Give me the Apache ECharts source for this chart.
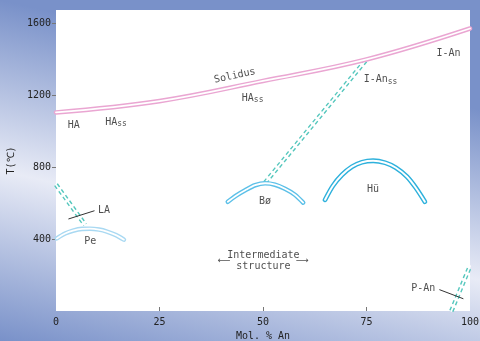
<!DOCTYPE html>
<html>
<head>
<meta charset="utf-8">
<script src="https://cdn.jsdelivr.net/npm/echarts@6/dist/echarts.min.js"></script>
<style>
  html, body { margin: 0; padding: 0; }
  #chart { width: 480px; height: 341px; }
</style>
</head>
<body>
<div id="chart"></div>
<script>
// Axis ticks
const xTicks = [0, 25, 50, 75, 100];
const xInnerTicks = [25, 50, 75];
const yTicks = [400, 800, 1200, 1600];

// Phase boundaries: [mol % An, T (°C)]
const solidus = [[0, 1105], [25, 1168], [50, 1280], [75, 1400], [100, 1572]];
const boundaryHigh = [[50.5, 714], [75, 1400]];
const boundaryLow = [[0, 703], [7, 480]];
const boundaryPAn = [[95.5, 0], [100, 250]];

// Exsolution domes
const domePe = [[0.2, 404], [2.2, 431], [4.1, 447], [6.3, 457], [8.2, 458], [10.4, 453],
                [12.3, 442], [14.5, 422], [16.4, 397]];
const domeBo = [[41.5, 608], [43.5, 642], [45.7, 672], [48.1, 700], [50.5, 711], [52.9, 703],
                [55.3, 680], [57.7, 647], [59.7, 603]];
const domeHu = [[65.0, 619], [66.9, 697], [69.1, 758], [71.5, 803], [73.9, 828], [76.6, 836],
                [79.5, 825], [82.1, 797], [84.8, 747], [86.9, 686], [89.1, 608]];

// Leader lines for labels
const leaderLA = [[3, 512], [9.3, 558]];
const leaderPAn = [[92.6, 119], [98.4, 68]];

const FONT = "'DejaVu Sans Mono', 'Liberation Mono', monospace";
const TEXT = '#222';

// A double-walled curve: a wide coloured stroke with a thin white core
function tube(data, color, width, dashed, smooth) {
  return [
    {
      type: 'line', data: data, smooth: smooth, symbol: 'none', silent: true,
      lineStyle: { color: color, width: width, type: dashed ? [4, 3] : 'solid', cap: dashed ? 'butt' : 'round' }
    },
    {
      type: 'line', data: data, smooth: smooth, symbol: 'none', silent: true,
      lineStyle: { color: '#ffffff', width: width - 2.8, cap: 'round' }
    }
  ];
}

function leader(data) {
  return { type: 'line', data: data, symbol: 'none', silent: true,
           lineStyle: { color: '#333', width: 1 } };
}

const chart = echarts.init(document.getElementById('chart'));

chart.setOption({
  animation: false,
  backgroundColor: {
    type: 'linear', global: true, x: 0, y: 0, x2: -74, y2: 324,
    colorStops: [
      { offset: 0, color: '#7991c9' },
      { offset: 0.5, color: '#e8ebf6' },
      { offset: 1, color: '#7991c9' }
    ]
  },
  grid: {
    left: 56, right: 10, top: 10, bottom: 30,
    outerBoundsMode: 'none', containLabel: false,
    show: true, backgroundColor: '#ffffff', borderWidth: 0
  },
  xAxis: {
    type: 'value', min: 0, max: 100, interval: 25,
    axisLine: { show: false },
    splitLine: { show: false },
    axisTick: { show: true, inside: true, length: 4, customValues: xInnerTicks,
                lineStyle: { color: '#777' } },
    axisLabel: { customValues: xTicks, margin: 6, color: TEXT, fontFamily: FONT, fontSize: 10,
                 formatter: (v) => String(v) },
    name: 'Mol. % An', nameLocation: 'middle', nameGap: 14,
    nameTextStyle: { color: TEXT, fontFamily: FONT, fontSize: 10 }
  },
  yAxis: {
    type: 'value', min: 0, max: 1675, interval: 400,
    axisLine: { show: false },
    splitLine: { show: false },
    axisTick: { show: true, inside: false, length: 4, customValues: yTicks,
                lineStyle: { color: '#777' } },
    axisLabel: { customValues: yTicks, margin: 5, color: TEXT, fontFamily: FONT, fontSize: 10,
                 formatter: (v) => String(v) },
    name: 'T(℃)', nameLocation: 'middle', nameGap: 40, nameRotate: 90,
    nameTextStyle: { color: TEXT, fontFamily: FONT, fontSize: 10 }
  },
  series: [
    ...tube(boundaryHigh, '#55c7bd', 4.6, true, false),
    ...tube(boundaryLow, '#55c7bd', 4.6, true, false),
    ...tube(boundaryPAn, '#55c7bd', 4.6, true, false),
    ...tube(solidus, '#eaa6d2', 4.6, false, 0.4),
    ...tube(domePe, '#a9d9f2', 4.6, false, 0.3),
    ...tube(domeBo, '#5cc0e8', 4.6, false, 0.3),
    ...tube(domeHu, '#2eb1dc', 4.8, false, 0.3),
    leader(leaderLA),
    leader(leaderPAn),
    {
      type: 'scatter', symbolSize: 0, silent: true,
      label: {
        show: true, position: 'inside', color: TEXT, fontFamily: FONT, fontSize: 10,
        rich: {
          b: { fontFamily: FONT, fontSize: 10, color: TEXT },
          s: { fontFamily: FONT, fontSize: 8, color: TEXT, padding: [4, 0, 0, 0] }
        }
      },
      data: [
        { value: [43.2, 1308], label: { formatter: 'Solidus', rotate: 12 } },
        { value: [4.3, 1032], label: { formatter: 'HA' } },
        { value: [14.5, 1050], label: { formatter: '{b|HA}{s|ss}' } },
        { value: [47.5, 1185], label: { formatter: '{b|HA}{s|ss}' } },
        { value: [78.4, 1287], label: { formatter: '{b|I-An}{s|ss}' } },
        { value: [94.8, 1434], label: { formatter: 'I-An' } },
        { value: [11.6, 561], label: { formatter: 'LA' } },
        { value: [8.3, 386], label: { formatter: 'Pe' } },
        { value: [50.5, 612], label: { formatter: 'Bø' } },
        { value: [76.6, 675], label: { formatter: 'Hü' } },
        { value: [50.1, 278], label: { formatter: 'Intermediate\nstructure', lineHeight: 11 } },
        { value: [40.6, 278], label: { formatter: '⟵', fontFamily: "'DejaVu Sans', sans-serif", fontSize: 9 } },
        { value: [59.5, 278], label: { formatter: '⟶', fontFamily: "'DejaVu Sans', sans-serif", fontSize: 9 } },
        { value: [88.7, 125], label: { formatter: 'P-An' } }
      ]
    }
  ]
});
</script>
</body>
</html>
